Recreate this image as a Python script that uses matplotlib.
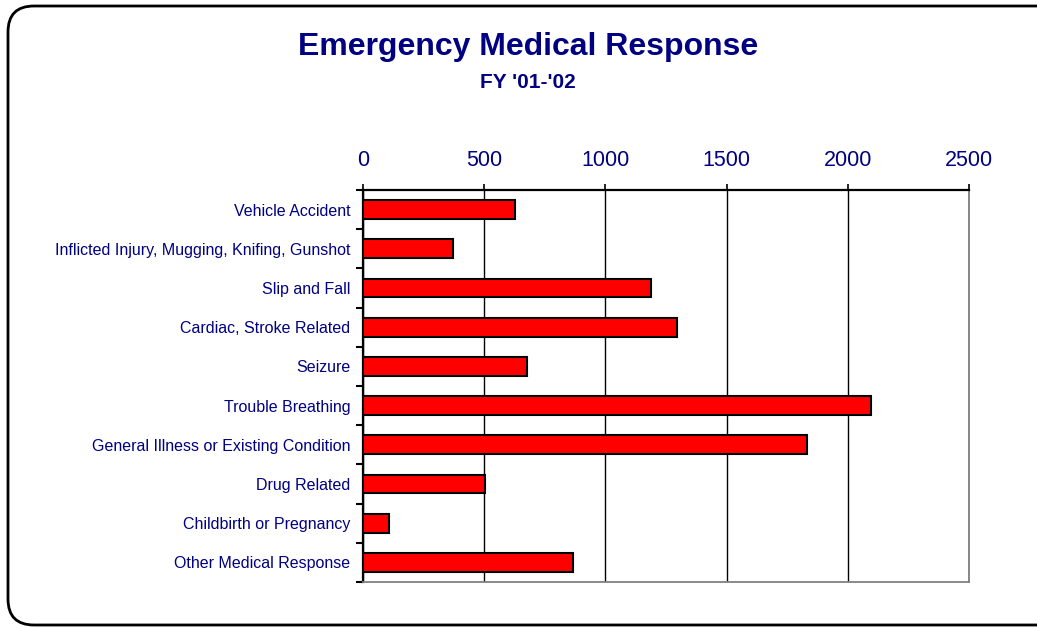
import matplotlib.pyplot as plt
from matplotlib.patches import FancyBboxPatch
import numpy as np

plt.rcParams['font.family'] = ['Liberation Sans', 'DejaVu Sans']

categories = ['Vehicle Accident',
              'Inflicted Injury, Mugging, Knifing, Gunshot',
              'Slip and Fall',
              'Cardiac, Stroke Related',
              'Seizure',
              'Trouble Breathing',
              'General Illness or Existing Condition',
              'Drug Related',
              'Childbirth or Pregnancy',
              'Other Medical Response']
values = [627, 373, 1188, 1297, 678, 2096, 1831, 502, 107, 866]
x_ticks = [0, 500, 1000, 1500, 2000, 2500]

navy = '#000080'

fig = plt.figure(figsize=(10.37, 6.28), dpi=100)

# rounded border drawn in pixel coordinates
bg = fig.add_axes([0, 0, 1, 1])
bg.set_xlim(0, 1037)
bg.set_ylim(628, 0)
bg.axis('off')
bg.add_patch(FancyBboxPatch((8, 6), 1060, 619, boxstyle='round,pad=0,rounding_size=26',
                            fc='white', ec='black', lw=2))

ax = fig.add_axes([363 / 1037, (628 - 582) / 628, 606 / 1037, 392 / 628])
ax.set_facecolor('none')
y = np.arange(len(categories))
ax.barh(y, values, height=0.48, color='#ff0000', edgecolor='black', lw=1.5, zorder=3)

ax.set_xlim(0, 2500)
ax.set_ylim(len(categories) - 0.5, -0.5)
ax.xaxis.tick_top()
ax.set_xticks(x_ticks)
ax.tick_params(axis='x', labelsize=15.5, colors=navy, length=4, width=1.2, pad=9.5)
ax.tick_params(axis='x', color='black')
ax.grid(axis='x', color='black', lw=1)
ax.set_axisbelow(True)

ax.set_yticks(y)
ax.set_yticklabels(categories)
ax.tick_params(axis='y', which='major', length=0, labelsize=11.5, labelcolor=navy, pad=9)
ax.set_yticks(np.arange(-0.5, len(categories)), minor=True)
ax.tick_params(axis='y', which='minor', length=5, width=1.5, color='black')

for s in ['top', 'left']:
    ax.spines[s].set_color('black')
    ax.spines[s].set_linewidth(1.6)
for s in ['bottom', 'right']:
    ax.spines[s].set_color('#808080')
    ax.spines[s].set_linewidth(1.3)

fig.text(528 / 1037, 1 - 47 / 628, 'Emergency Medical Response', ha='center', va='center',
         fontsize=23, fontweight='bold', color=navy)
fig.text(528 / 1037, 1 - 83 / 628, "FY '01-'02", ha='center', va='center',
         fontsize=15, fontweight='bold', color=navy)

fig.savefig('out.png', dpi=100)
